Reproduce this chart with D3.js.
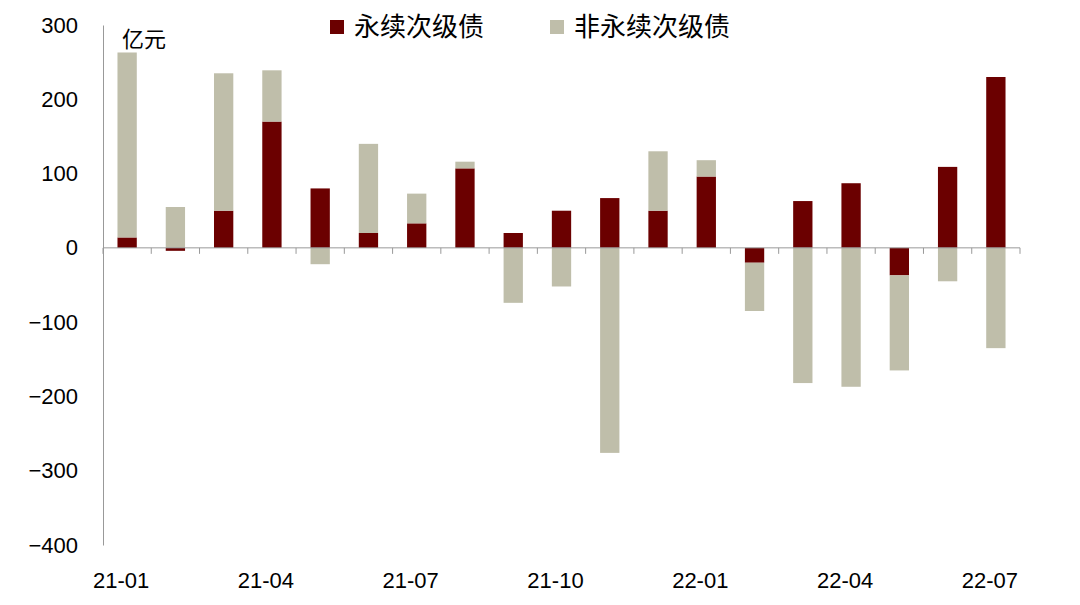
<!DOCTYPE html>
<html><head><meta charset="utf-8">
<script src="https://cdn.jsdelivr.net/npm/d3@7"></script>
<style>body{margin:0;background:#fff;font-family:Arial,"Liberation Sans","Noto Sans CJK SC",sans-serif}</style>
</head><body><svg id="c" width="1080" height="605"></svg>
<script>
const months = ["21-01","21-02","21-03","21-04","21-05","21-06","21-07","21-08","21-09","21-10","21-11","21-12","22-01","22-02","22-03","22-04","22-05","22-06","22-07"];
const perpetual = [14,-4,50,170,80,20,33,107,20,50,67,50,96,-20,63,87,-37,109,230];
const nonPerpetual = [249,55,185,69,-22,120,40,9,-74,-52,-276,80,22,-65,-182,-187,-128,-45,-135];
const yTicks = [-400,-300,-200,-100,0,100,200,300];
const labelMonths = ["21-01","21-04","21-07","21-10","22-01","22-04","22-07"];
const seriesNames = ["永续次级债","非永续次级债"];
const colors = ["#6b0000","#bfbeaa"];

const svg = d3.select("#c");
const plotLeft = 103, plotRight = 1020, plotTop = 25, plotBottom = 545;
const x = d3.scaleBand().domain(months).range([plotLeft, plotRight]).paddingInner(0.6).paddingOuter(0.3);
const y = d3.scaleLinear().domain([-400, 300]).range([plotBottom, plotTop]);

const rows = months.map((m, i) => ({m, a: perpetual[i], b: nonPerpetual[i]}));
const stack = d3.stack().keys(["a","b"]).offset(d3.stackOffsetDiverging)(rows);

svg.selectAll("g.s").data(stack).enter().append("g")
  .attr("fill", (d, i) => colors[i])
  .selectAll("rect").data(d => d).enter().append("rect")
  .attr("x", d => x(d.data.m))
  .attr("width", x.bandwidth())
  .attr("y", d => y(Math.max(d[0], d[1])))
  .attr("height", d => Math.abs(y(d[0]) - y(d[1])));

// y axis
const ya = svg.append("g").attr("transform", `translate(${plotLeft},0)`)
  .call(d3.axisLeft(y).tickValues(yTicks).tickSize(0).tickPadding(25));
ya.select(".domain").attr("stroke", "#999");
ya.selectAll("text").attr("font-size", 22).attr("fill", "#000").attr("font-family", "Arial,'Liberation Sans'");

// zero line with ticks
const xa = svg.append("g").attr("transform", `translate(0,${y(0)})`);
xa.append("line").attr("x1", plotLeft).attr("x2", plotRight).attr("stroke", "#999");
const step = x.step();
d3.range(0, 20).forEach(i => {
  const px = plotLeft + x.paddingOuter() * step + i * step - x.paddingInner() * step / 2;
  xa.append("line").attr("x1", px).attr("x2", px).attr("y1", 0).attr("y2", 6).attr("stroke", "#999");
});

svg.selectAll("text.xl").data(labelMonths).enter().append("text")
  .attr("x", d => x(d) + x.bandwidth() / 2 - 6)
  .attr("y", 588).attr("text-anchor", "middle")
  .attr("font-size", 22).text(d => d);

svg.append("text").attr("x", 122).attr("y", 47).attr("font-size", 22).text("亿元");

// legend
const lg = svg.append("g").attr("transform", "translate(330,14)");
seriesNames.forEach((n, i) => {
  const ox = i === 0 ? 0 : 220;
  lg.append("rect").attr("x", ox).attr("y", 6).attr("width", 14).attr("height", 14).attr("fill", colors[i]);
  lg.append("text").attr("x", ox + 24).attr("y", 22).attr("font-size", 26).text(n);
});
</script></body></html>
